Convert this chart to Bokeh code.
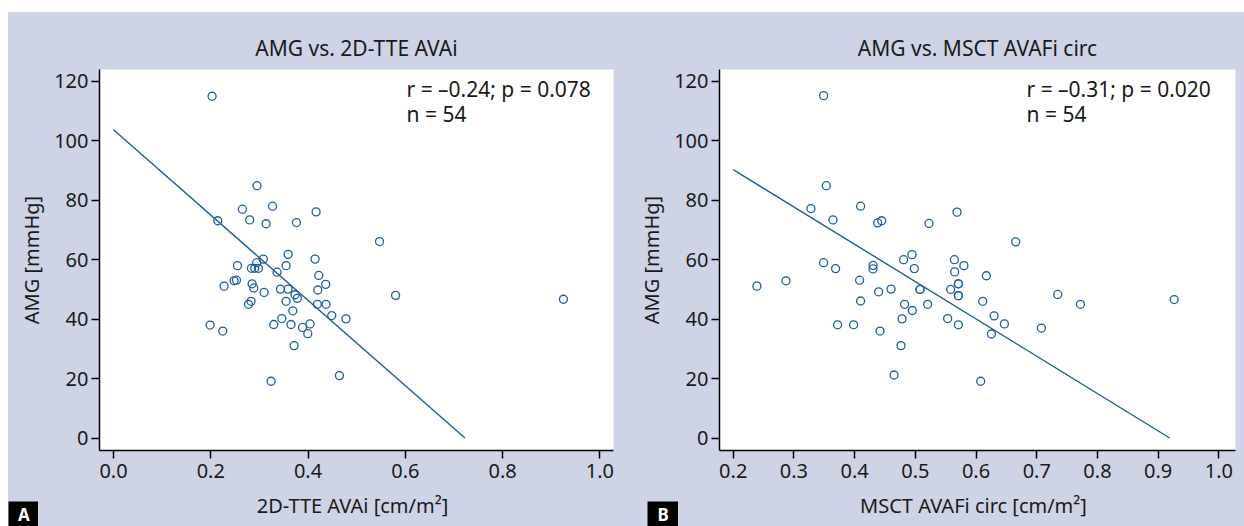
from bokeh.plotting import figure
from bokeh.models import FixedTicker, Label, Spacer, NumeralTickFormatter
from bokeh.layouts import row, column
from bokeh.embed import file_html
from bokeh.resources import INLINE

# ---------------- data ----------------
tte_avai = [0.2027, 0.295, 0.265, 0.327, 0.4165, 0.2144, 0.280, 0.3137, 0.376, 0.547,
            0.359, 0.308, 0.2945, 0.4144, 0.2549, 0.3548, 0.2836, 0.2904, 0.298, 0.3363,
            0.422, 0.2479, 0.2528, 0.4364, 0.2273, 0.285, 0.2884, 0.3096, 0.3433, 0.359,
            0.420, 0.3733, 0.378, 0.580, 0.3548, 0.2829, 0.2775, 0.419, 0.437, 0.3686,
            0.4487, 0.346, 0.478, 0.1986, 0.3295, 0.365, 0.404, 0.3885, 0.2247, 0.3994,
            0.3713, 0.4645, 0.324, 0.925]
tte_amg = [115.0, 84.9, 77.0, 78.0, 76.1, 73.1, 73.4, 72.1, 72.5, 66.1,
           61.8, 60.2, 59.0, 60.2, 58.0, 58.0, 57.1, 57.1, 57.1, 55.8,
           54.7, 52.9, 53.1, 51.7, 51.1, 51.9, 50.5, 49.0, 50.1, 50.1,
           49.8, 48.2, 47.0, 48.0, 46.0, 46.0, 45.0, 45.0, 45.0, 42.8,
           41.2, 40.2, 40.1, 38.0, 38.2, 38.2, 38.4, 37.2, 36.0, 35.1,
           31.1, 21.0, 19.1, 46.7]

msct_avafi = [0.3489, 0.3533, 0.328, 0.4098, 0.3643, 0.4379, 0.4445, 0.5225, 0.5687, 0.4945,
              0.4807, 0.5643, 0.580, 0.3489, 0.3686, 0.4303, 0.4303, 0.4983, 0.5648, 0.239,
              0.2869, 0.4082, 0.5709, 0.5077, 0.460, 0.4395, 0.5582, 0.5709, 0.4098, 0.4823,
              0.495, 0.5203, 0.4781, 0.5532, 0.5709, 0.3719, 0.3983, 0.4418, 0.4764, 0.4649,
              0.6076, 0.611, 0.6653, 0.617, 0.7346, 0.772, 0.9264, 0.6297, 0.6467, 0.7077,
              0.6253, 0.5709, 0.5077, 0.5709]
msct_amg = [115.2, 84.9, 77.2, 78.0, 73.4, 72.4, 73.1, 72.2, 76.0, 61.7,
            60.0, 60.0, 58.0, 59.0, 57.0, 58.1, 56.9, 57.0, 55.9, 51.1,
            52.9, 53.1, 51.9, 50.0, 50.1, 49.2, 50.0, 47.9, 46.1, 45.0,
            42.9, 45.0, 40.1, 40.2, 38.1, 38.1, 38.1, 36.0, 31.1, 21.2,
            19.1, 46.0, 66.0, 54.6, 48.3, 45.0, 46.6, 41.1, 38.4, 37.0,
            35.0, 51.9, 50.0, 47.9]

fit_a_x = [0.0, 0.7227]
fit_a_y = [103.7, 0.0]
fit_b_x = [0.2, 0.919]
fit_b_y = [90.3, 0.0]

ticks_a_x = [0.0, 0.2, 0.4, 0.6, 0.8, 1.0]
ticks_b_x = [0.2, 0.3, 0.4, 0.5, 0.6, 0.7, 0.8, 0.9, 1.0]
ticks_y = [0, 20, 40, 60, 80, 100, 120]

titles = ["AMG vs. 2D-TTE AVAi", "AMG vs. MSCT AVAFi circ"]
xlabels = ["2D-TTE AVAi [cm/m²]", "MSCT AVAFi circ [cm/m²]"]
ylabel = "AMG [mmHg]"
stats = [["r = –0.24; p = 0.078", "n = 54"], ["r = –0.31; p = 0.020", "n = 54"]]
panel_letters = ["A", "B"]

# ---------------- style ----------------
FONT = "Noto Sans"
FS = "20px"
FS_BIG = "21px"
BG = "#CED3E6"
BLUE = "#1C5DA3"
TXT = "#1a1a1a"


def make_panel(xs, ys, fx, fy, xr, xt, title, stat, width, mbl, mbr):
    p = figure(width=width, height=478, x_range=xr, y_range=(-4.2, 124.0),
               output_backend="svg", toolbar_location=None,
               min_border_left=mbl, min_border_right=mbr,
               min_border_top=57, min_border_bottom=40)
    p.background_fill_color = "white"
    p.border_fill_color = BG
    p.outline_line_color = None
    p.grid.visible = False

    p.title.text = title
    p.title.align = "center"
    p.title.text_font = FONT
    p.title.text_font_size = FS_BIG
    p.title.text_font_style = "normal"
    p.title.text_color = TXT
    p.title.standoff = 15

    for ax in (p.xaxis[0], p.yaxis[0]):
        ax.axis_line_color = "black"
        ax.axis_line_width = 1.5
        ax.major_tick_line_color = "black"
        ax.major_tick_line_width = 1.5
        ax.major_tick_in = 0
        ax.major_tick_out = 8
        ax.minor_tick_line_color = None
        ax.major_label_text_font = FONT
        ax.major_label_text_font_size = FS
        ax.major_label_text_color = TXT
        ax.axis_label_text_font = FONT
        ax.axis_label_text_font_size = FS
        ax.axis_label_text_font_style = "normal"
        ax.axis_label_text_color = TXT

    p.xaxis.ticker = FixedTicker(ticks=xt)
    p.xaxis.formatter = NumeralTickFormatter(format="0.0")
    p.xaxis.major_label_standoff = 5
    p.yaxis.ticker = FixedTicker(ticks=ticks_y)
    p.yaxis.axis_label = ylabel
    p.yaxis.major_label_standoff = 3
    p.yaxis.axis_label_standoff = 6

    p.line(fx, fy, line_color=BLUE, line_width=1.4)
    p.scatter(xs, ys, marker="circle", size=8, fill_color=None,
              line_color=BLUE, line_width=1.3)

    p.add_layout(Label(x=307, y=362, x_units="screen", y_units="screen",
                       text=stat[0], text_font=FONT, text_font_size=FS_BIG,
                       text_color=TXT, text_baseline="alphabetic"))
    p.add_layout(Label(x=307, y=337, x_units="screen", y_units="screen",
                       text=stat[1], text_font=FONT, text_font_size=FS_BIG,
                       text_color=TXT, text_baseline="alphabetic"))
    return p


def text_fig(w, h, bg, text, x, y, color, size, style, align, baseline):
    f = figure(width=w, height=h, x_range=(0, 1), y_range=(0, 1),
               output_backend="svg", toolbar_location=None,
               x_axis_location=None, y_axis_location=None, min_border=0)
    f.background_fill_color = bg
    f.border_fill_color = bg
    f.outline_line_color = None
    f.grid.visible = False
    f.add_layout(Label(x=x, y=y, x_units="screen", y_units="screen", text=text,
                       text_font=FONT, text_font_size=size, text_font_style=style,
                       text_color=color, text_align=align, text_baseline=baseline))
    return f


pa = make_panel(tte_avai, tte_amg, fit_a_x, fit_a_y, (-0.0288, 1.028), ticks_a_x,
                titles[0], stats[0], 612, 91, 7)
pb = make_panel(msct_avafi, msct_amg, fit_b_x, fit_b_y, (0.1774, 1.0274), ticks_b_x,
                titles[1], stats[1], 624, 99, 9)

letter_a = text_fig(30, 25, "black", panel_letters[0], 15.3, 12, "white", "17px",
                    "bold", "center", "alphabetic")
letter_b = text_fig(31, 25, "black", panel_letters[1], 15.6, 12, "white", "17px",
                    "bold", "center", "alphabetic")
xlab_a = text_fig(582, 36, BG, xlabels[0], 314, 20.8, TXT, FS, "normal", "center", "alphabetic")
xlab_b = text_fig(566, 36, BG, xlabels[1], 295, 20.8, TXT, FS, "normal", "center", "alphabetic")

strip_a = row(column(Spacer(width=30, height=11), letter_a, spacing=0), xlab_a, spacing=0)
strip_b = row(Spacer(width=27, height=36),
              column(Spacer(width=31, height=11), letter_b, spacing=0), xlab_b, spacing=0)

col_a = column(pa, strip_a, spacing=0)
col_b = column(pb, strip_b, spacing=0)
content = row(col_a, col_b, spacing=0, styles={"background-color": BG})

layout = column(Spacer(width=1244, height=12),
                row(Spacer(width=8, height=514), content, spacing=0), spacing=0)

open("out.html", "w").write(file_html(layout, INLINE))
